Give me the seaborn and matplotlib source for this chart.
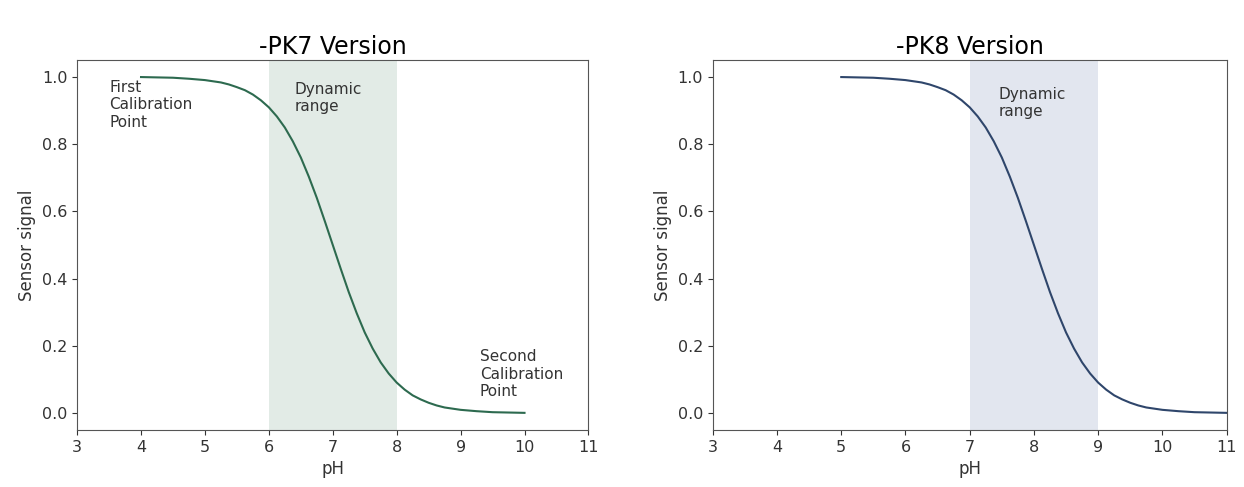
import matplotlib
matplotlib.use("Agg")
import matplotlib.pyplot as plt
import numpy as np
import pandas as pd
import seaborn as sns

# DATA
ph_pk7 = [4.0, 4.25, 4.5, 4.75, 5.0, 5.25, 5.375, 5.5, 5.625, 5.75, 5.875,
          6.0, 6.125, 6.25, 6.375, 6.5, 6.625, 6.75, 6.875, 7.0, 7.125, 7.25,
          7.375, 7.5, 7.625, 7.75, 7.875, 8.0, 8.125, 8.25, 8.375, 8.5, 8.625,
          8.75, 9.0, 9.25, 9.5, 9.75, 10.0]
signal_pk7 = [0.999, 0.998, 0.997, 0.994, 0.990, 0.983, 0.977, 0.969, 0.960,
              0.947, 0.930, 0.909, 0.882, 0.849, 0.808, 0.760, 0.703, 0.640,
              0.571, 0.500, 0.429, 0.360, 0.297, 0.240, 0.192, 0.151, 0.118,
              0.091, 0.070, 0.053, 0.041, 0.031, 0.023, 0.017, 0.010, 0.006,
              0.003, 0.002, 0.001]
ph_pk8 = [5.0, 5.25, 5.5, 5.75, 6.0, 6.25, 6.375, 6.5, 6.625, 6.75, 6.875,
          7.0, 7.125, 7.25, 7.375, 7.5, 7.625, 7.75, 7.875, 8.0, 8.125, 8.25,
          8.375, 8.5, 8.625, 8.75, 8.875, 9.0, 9.125, 9.25, 9.375, 9.5, 9.625,
          9.75, 10.0, 10.25, 10.5, 10.75, 11.0]
signal_pk8 = [0.999, 0.998, 0.997, 0.994, 0.990, 0.983, 0.977, 0.969, 0.960,
              0.947, 0.930, 0.909, 0.882, 0.849, 0.808, 0.760, 0.703, 0.640,
              0.571, 0.500, 0.429, 0.360, 0.297, 0.240, 0.192, 0.151, 0.118,
              0.091, 0.070, 0.053, 0.041, 0.031, 0.023, 0.017, 0.010, 0.006,
              0.003, 0.002, 0.001]
range_pk7 = (6, 8)
range_pk8 = (7, 9)
xticks = [3, 4, 5, 6, 7, 8, 9, 10, 11]

pk7 = pd.DataFrame({"pH": ph_pk7, "signal": signal_pk7})
pk8 = pd.DataFrame({"pH": ph_pk8, "signal": signal_pk8})

fig = plt.figure(figsize=(12.44, 4.87), dpi=100)
ax1 = fig.add_axes([0.062, 0.117, 0.411, 0.76])
ax2 = fig.add_axes([0.573, 0.117, 0.413, 0.76])

panels = [
    (ax1, pk7, range_pk7, "#2d6a4f", "#e2ebe6", "-PK7 Version"),
    (ax2, pk8, range_pk8, "#2f466b", "#e2e6ef", "-PK8 Version"),
]
for ax, df, rng, line_c, span_c, title in panels:
    ax.axvspan(rng[0], rng[1], color=span_c, lw=0, zorder=0)
    sns.lineplot(data=df, x="pH", y="signal", ax=ax, color=line_c, lw=1.5)
    ax.set_xlim(3, 11)
    ax.set_ylim(-0.05, 1.05)
    ax.set_xticks(xticks)
    ax.set_yticks([0.0, 0.2, 0.4, 0.6, 0.8, 1.0])
    ax.tick_params(labelsize=11.5, colors="#333333")
    for s in ax.spines.values():
        s.set_color("#555555")
    ax.set_xlabel("pH", fontsize=12, color="#333333")
    ax.set_ylabel("Sensor signal", fontsize=12, color="#333333")
    ax.set_title(title, fontsize=17, pad=4)

ax1.text(3.5, 0.99, "First\nCalibration\nPoint", fontsize=11, va="top", color="#333333")
ax1.text(6.4, 0.985, "Dynamic\nrange", fontsize=11, va="top", color="#333333")
ax1.text(9.3, 0.19, "Second\nCalibration\nPoint", fontsize=11, va="top", color="#333333")
ax2.text(7.45, 0.97, "Dynamic\nrange", fontsize=11, va="top", color="#333333")

plt.savefig("out.png", dpi=100)
